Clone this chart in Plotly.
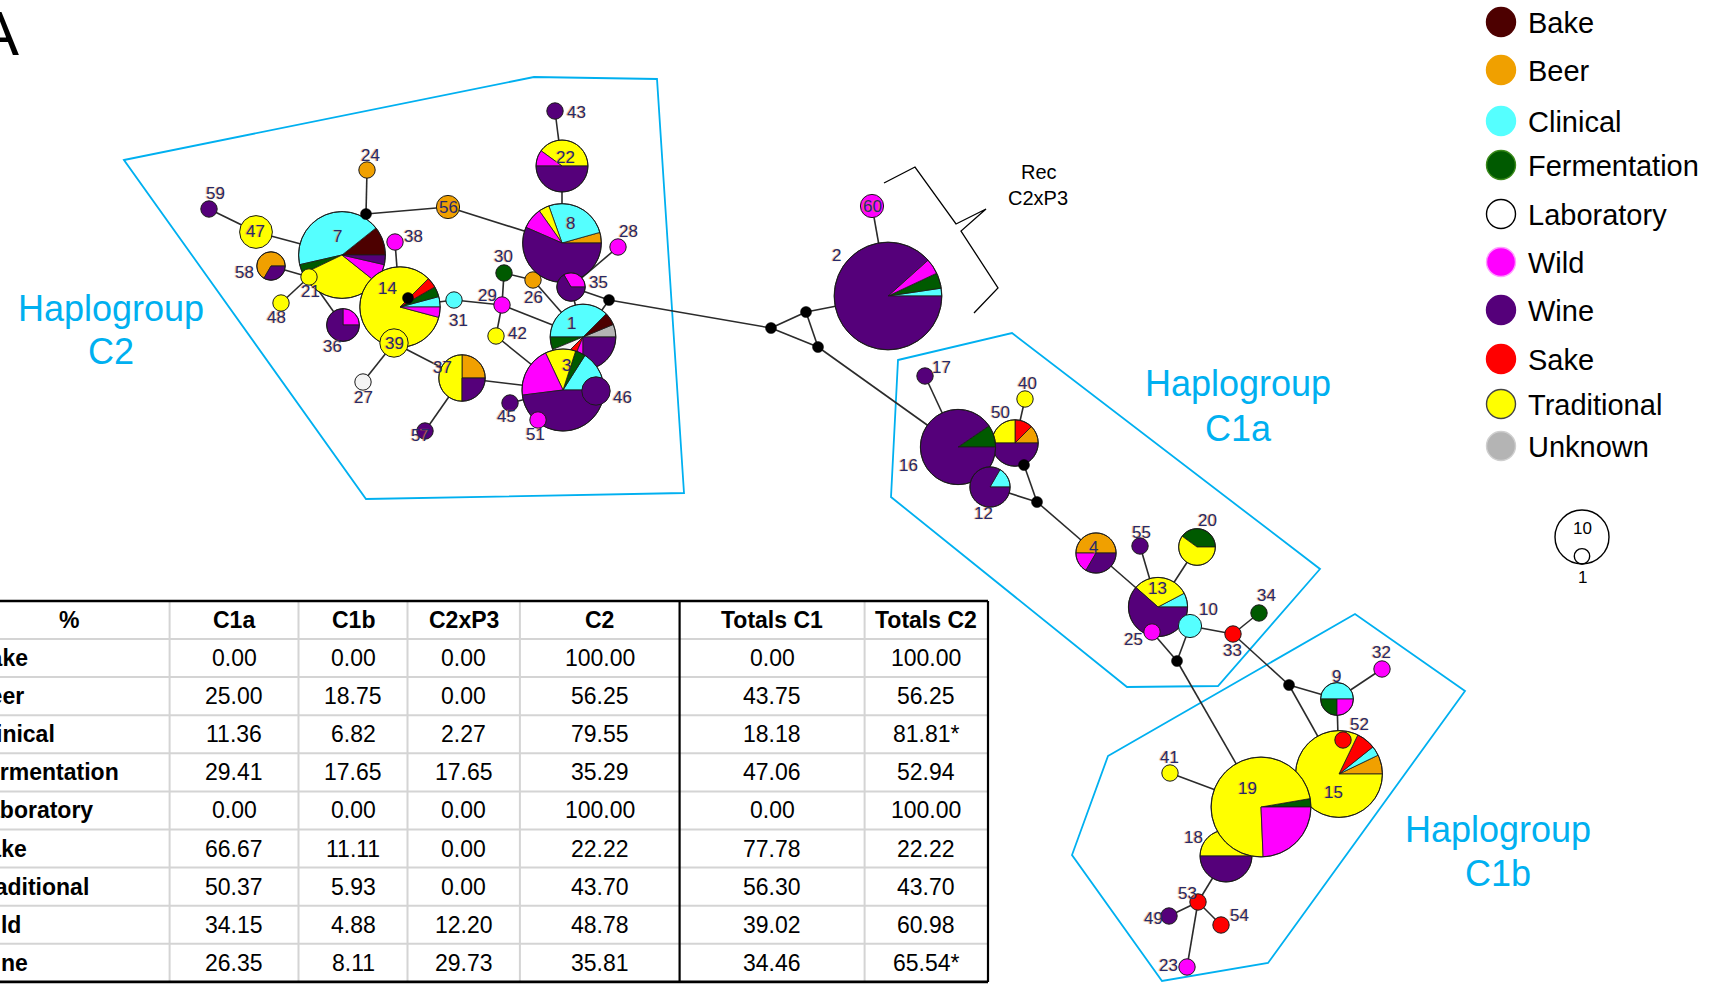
import numpy as np
import plotly.graph_objects as go

W, H = 1727, 985
FONT = "Liberation Sans, Arial, sans-serif"

# ---------------------------------------------------------------- categories
categories = ["Bake", "Beer", "Clinical", "Fermentation", "Laboratory",
              "Wild", "Wine", "Sake", "Traditional", "Unknown"]
category_color = {
    "Bake": "#4d0000", "Beer": "#f0a000", "Clinical": "#55ffff",
    "Fermentation": "#005a00", "Laboratory": "#f4f4f4", "Wild": "#ff00ff",
    "Wine": "#55007a", "Sake": "#ff0000", "Traditional": "#ffff00",
    "Unknown": "#b4b4b4",
}

# ------------------------------------------- strain counts of each haplotype
# (listed counter-clockwise starting at 3 o'clock)
haplotype_counts = {
    1: [("Unknown", 1), ("Bake", 1), ("Clinical", 6), ("Fermentation", 1),
        ("Laboratory", 1), ("Sake", 1), ("Wild", 1), ("Wine", 4)],
    2: [("Clinical", 1), ("Fermentation", 2), ("Wild", 2), ("Wine", 38)],
    3: [("Clinical", 4), ("Fermentation", 1), ("Traditional", 3), ("Wild", 5), ("Wine", 12)],
    4: [("Beer", 3), ("Wild", 1), ("Wine", 2)],
    7: [("Bake", 3), ("Clinical", 12), ("Fermentation", 1), ("Traditional", 9),
        ("Wild", 2), ("Wine", 1)],
    8: [("Beer", 1), ("Clinical", 6), ("Traditional", 1), ("Wild", 2), ("Wine", 13)],
    9: [("Clinical", 2), ("Fermentation", 1), ("Wild", 1)],
    10: [("Clinical", 2)],
    12: [("Clinical", 1), ("Wine", 5)],
    13: [("Clinical", 1), ("Traditional", 4), ("Wine", 8)],
    14: [("Clinical", 1), ("Fermentation", 1), ("Sake", 1), ("Traditional", 20), ("Wild", 1)],
    15: [("Beer", 2), ("Clinical", 1), ("Sake", 2), ("Traditional", 23)],
    16: [("Fermentation", 2), ("Wine", 19)],
    17: [("Wine", 1)],
    18: [("Traditional", 5), ("Wine", 5)],
    19: [("Fermentation", 1), ("Traditional", 27), ("Wild", 9)],
    20: [("Fermentation", 2), ("Traditional", 3)],
    21: [("Traditional", 1)],
    22: [("Traditional", 4), ("Wild", 1), ("Wine", 5)],
    23: [("Wild", 1)],
    24: [("Beer", 1)],
    25: [("Wild", 1)],
    26: [("Beer", 1)],
    27: [("Laboratory", 1)],
    28: [("Wild", 1)],
    29: [("Wild", 1)],
    30: [("Fermentation", 1)],
    31: [("Clinical", 1)],
    32: [("Wild", 1)],
    33: [("Sake", 1)],
    34: [("Fermentation", 1)],
    35: [("Wild", 1), ("Wine", 2)],
    36: [("Wild", 1), ("Wine", 3)],
    37: [("Beer", 2), ("Traditional", 4), ("Wine", 2)],
    38: [("Wild", 1)],
    39: [("Traditional", 3)],
    40: [("Traditional", 1)],
    41: [("Traditional", 1)],
    42: [("Traditional", 1)],
    43: [("Wine", 1)],
    45: [("Wine", 1)],
    46: [("Wine", 3)],
    47: [("Traditional", 4)],
    48: [("Traditional", 1)],
    49: [("Wine", 1)],
    50: [("Beer", 1), ("Sake", 1), ("Traditional", 2), ("Wine", 4)],
    51: [("Wild", 1)],
    52: [("Sake", 1)],
    53: [("Sake", 1)],
    54: [("Sake", 1)],
    55: [("Wine", 1)],
    56: [("Beer", 2)],
    57: [("Wine", 1)],
    58: [("Beer", 2), ("Wine", 1)],
    59: [("Wine", 1)],
    60: [("Wild", 2)],
}

# ------------------------------------------------- network layout (pixels)
node_xy = {
    59: (209, 209), 47: (256, 232), 7: (342, 255), 24: (367, 170), 56: (448, 207),
    38: (395, 242), 58: (271, 266), 21: (309, 277), 48: (281, 303), 36: (343, 325),
    14: (400, 307), 39: (394, 343), 31: (454, 300), 30: (504, 273), 29: (502, 305),
    26: (533, 280), 42: (496, 336), 43: (555, 111), 22: (562, 166), 8: (562, 243),
    28: (618, 247), 35: (571, 287), 1: (583, 337), 3: (563, 390), 46: (596, 391),
    45: (510, 403), 51: (538, 420), 27: (363, 382), 37: (462, 378), 57: (425, 431),
    2: (888, 296), 60: (872, 206),
    17: (925, 376), 16: (958, 447), 50: (1015, 443), 40: (1025, 399), 12: (990, 487),
    4: (1096, 553), 55: (1140, 546), 20: (1197, 547), 13: (1158, 607), 25: (1152, 632),
    10: (1190, 626), 33: (1233, 634), 34: (1259, 613),
    9: (1337, 699), 32: (1382, 669), 15: (1339, 774), 52: (1343, 740), 19: (1261, 807),
    18: (1226, 856), 41: (1170, 773), 53: (1198, 902), 49: (1169, 916), 54: (1221, 925),
    23: (1187, 967),
}
median_xy = {
    "m1": (366, 214), "m14": (408, 298), "m2": (609, 300), "m3": (771, 328),
    "m4": (806, 312), "m5": (818, 347), "m6": (1024, 465), "m7": (1037, 502),
    "m8": (1177, 661), "m9": (1289, 685),
}
label_xy = {
    59: (215, 194), 47: (256, 232), 7: (337, 237), 24: (370, 155), 56: (448, 207),
    38: (413, 237), 58: (245, 272), 21: (310, 291), 48: (276, 318), 36: (332, 347),
    14: (387, 288), 39: (394, 343), 31: (458, 320), 30: (503, 256), 29: (487, 295),
    26: (533, 297), 42: (517, 334), 43: (576, 112), 22: (565, 157), 8: (570, 223),
    28: (628, 232), 35: (598, 282), 1: (571, 323), 3: (566, 365), 46: (622, 397),
    45: (506, 417), 51: (535, 434), 27: (363, 398), 37: (442, 367), 57: (420, 435),
    2: (836, 255), 60: (872, 206), 17: (942, 367), 16: (909, 465), 50: (1000, 412),
    40: (1027, 383), 12: (983, 513), 4: (1093, 547), 55: (1141, 532), 20: (1207, 520),
    13: (1157, 588), 25: (1133, 639), 10: (1208, 609), 33: (1232, 650), 34: (1266, 595),
    9: (1336, 676), 32: (1381, 652), 15: (1333, 792), 52: (1359, 724), 19: (1247, 788),
    18: (1193, 837), 41: (1169, 757), 53: (1187, 893), 49: (1153, 918), 54: (1239, 915),
    23: (1168, 965),
}
links = [
    (59, 47), (47, 7), (7, "m1"), ("m1", 24), ("m1", 56), (56, 8), (7, 21), (21, 58),
    (21, 48), (21, 36), (7, 14), (38, 14), (14, 39), (14, 31), (31, 29), (29, 30),
    (29, 42), (29, 1), (30, 26), (26, 1), (42, 3), (39, 37), (39, 27), (37, 57),
    (37, 3), (45, 3), (43, 22), (22, 8), (28, 35), (8, 35), (35, 1), (35, "m2"),
    ("m2", 1), ("m2", "m3"), ("m3", "m4"), ("m3", "m5"), ("m4", "m5"), ("m4", 2),
    (60, 2), ("m5", 16), (17, 16), (40, 50), (50, "m6"), ("m6", "m7"), (12, "m7"),
    ("m7", 4), (4, 13), (55, 13), (20, 13), (13, 10), (10, 33), (33, 34), (25, "m8"),
    (10, "m8"), ("m8", 19), (33, "m9"), ("m9", 9), ("m9", 15), (32, 9), (9, 15),
    (41, 19), (18, 53), (53, 49), (53, 54), (53, 23),
]
draw_order = [59, 47, 24, 56, 58, 48, 36, 7, 21, 14, 39, 38, 31, 30, 29, 26, 42, 27,
              37, 57, 43, 22, 8, 28, 35, 1, 3, 46, 45, 51, 2, 60, 17, 50, 40, 16, 12,
              4, 55, 20, 13, 25, 10, 33, 34, 9, 32, 15, 52, 18, 19, 41, 53, 49, 54, 23]

# haplogroup outlines and captions
group_outline = {
    "C2": [(124, 160), (534, 77), (657, 79), (684, 493), (366, 499)],
    "C1a": [(898, 360), (1012, 333), (1320, 569), (1218, 686), (1127, 687), (891, 497)],
    "C1b": [(1108, 756), (1355, 614), (1465, 691), (1268, 963), (1162, 981), (1072, 855)],
}
group_caption_xy = {"C2": (111, 308, 351), "C1a": (1238, 383, 428), "C1b": (1498, 829, 873)}
brace_pts = [(884, 183), (915, 167), (956, 224), (986, 209), (961, 231), (998, 288), (974, 313)]

# ------------------------------------------------------------ summary table
table_cols = ["%", "C1a", "C1b", "C2xP3", "C2", "Totals C1", "Totals C2"]
table_rows = ["Bake", "Beer", "Clinical", "Fermentation", "Laboratory",
              "Sake", "Traditional", "Wild", "Wine"]
pct_C1a = [0.00, 25.00, 11.36, 29.41, 0.00, 66.67, 50.37, 34.15, 26.35]
pct_C1b = [0.00, 18.75, 6.82, 17.65, 0.00, 11.11, 5.93, 4.88, 8.11]
pct_C2xP3 = [0.00, 0.00, 2.27, 17.65, 0.00, 0.00, 0.00, 12.20, 29.73]
pct_C2 = [100.00, 56.25, 79.55, 35.29, 100.00, 22.22, 43.70, 48.78, 35.81]
total_C1 = [0.00, 43.75, 18.18, 47.06, 0.00, 77.78, 56.30, 39.02, 34.46]
total_C2 = [100.00, 56.25, 81.81, 52.94, 100.00, 22.22, 43.70, 60.98, 65.54]
significant_C2 = ["Clinical", "Wine"]

col_edges = [-31, 169.6, 298.5, 407.5, 519.9, 679.6, 864.6, 988]
table_top, header_h, row_h = 601, 38, 38.1

# ------------------------------------------------------------------ helpers
R1 = 8.2  # radius of a single-strain node


def node_radius(n):
    return R1 * np.sqrt(n)


def arc_points(cx, cy, r, a0, a1):
    k = max(2, int(np.ceil(abs(a1 - a0) / 2.0)))
    t = np.radians(np.linspace(a0, a1, k + 1))
    return cx + r * np.cos(t), cy - r * np.sin(t)


def wedge_path(cx, cy, r, a0, a1):
    xs, ys = arc_points(cx, cy, r, a0, a1)
    pts = " L".join(f"{x:.2f},{y:.2f}" for x, y in zip(xs, ys))
    return f"M{cx:.2f},{cy:.2f} L{pts} Z"


def poly_path(pts, closed=True):
    s = "M" + " L".join(f"{x},{y}" for x, y in pts)
    return s + (" Z" if closed else "")


shapes, annotations = [], []


def circle(cx, cy, r, fill, line_color="#1a1a1a", width=1.0):
    shapes.append(dict(type="circle", xref="x", yref="y", x0=cx - r, x1=cx + r,
                       y0=cy - r, y1=cy + r, fillcolor=fill,
                       line=dict(color=line_color, width=width)))


def text(x, y, s, size, color="black", xanchor="center", family=FONT, **font_extra):
    # paper coordinates so that text hanging past the page edge is still drawn
    annotations.append(dict(x=x / W, y=1 - y / H, xref="paper", yref="paper", text=s,
                            showarrow=False, xanchor=xanchor, yanchor="middle",
                            font=dict(family=family, size=size, color=color, **font_extra)))


def pos(key):
    return node_xy[key] if key in node_xy else median_xy[key]


# --------------------------------------------------------- haplogroup hulls
for g, pts in group_outline.items():
    shapes.append(dict(type="path", xref="x", yref="y", path=poly_path(pts),
                       line=dict(color="#00b0f0", width=1.8), fillcolor="rgba(0,0,0,0)"))

# ----------------------------------------------------------------- edges
for a, b in links:
    (x0, y0), (x1, y1) = pos(a), pos(b)
    shapes.append(dict(type="line", xref="x", yref="y", x0=x0, y0=y0, x1=x1, y1=y1,
                       line=dict(color="#2b2b2b", width=1.6)))

# ------------------------------------------------------------- pie nodes
for hid in draw_order:
    cx, cy = node_xy[hid]
    parts = haplotype_counts[hid]
    n = sum(c for _, c in parts)
    r = node_radius(n)
    if len(parts) == 1:
        circle(cx, cy, r, category_color[parts[0][0]])
        continue
    a = 0.0
    for cat, c in parts:
        span = 360.0 * c / n
        shapes.append(dict(type="path", xref="x", yref="y", path=wedge_path(cx, cy, r, a, a + span),
                           fillcolor=category_color[cat], line=dict(color="#1a1a1a", width=0.8)))
        a += span
    circle(cx, cy, r, "rgba(0,0,0,0)")

# median vectors
for key, (mx, my) in median_xy.items():
    circle(mx, my, 5.5, "black", "black", 0.5)

# node numbers
for hid, (lx, ly) in label_xy.items():
    text(lx, ly, str(hid), 17, color="#26296a", shadow="-1px 0px 1px rgba(230,150,40,0.85)")

# haplogroup captions
for g, (gx, gy1, gy2) in group_caption_xy.items():
    text(gx, gy1, "Haplogroup", 36, color="#00b0f0")
    text(gx, gy2, g, 36, color="#00b0f0")

# recombinant bracket
shapes.append(dict(type="path", xref="x", yref="y", path=poly_path(brace_pts, closed=False),
                   line=dict(color="black", width=1.3)))
text(1039, 172, "Rec", 20)
text(1038, 198, "C2xP3", 20)

# panel letter
text(-2, 33, "A", 63)

# ---------------------------------------------------------------- legend
legend_y = [22, 70, 121, 165, 214, 262, 310, 359, 404, 446]
for cat, ly in zip(categories, legend_y):
    outline = {"Laboratory": "black", "Traditional": "#444444",
               "Fermentation": "#3a8a1a", "Wild": "#ff9cff", "Unknown": "#cfcfcf"}.get(cat, category_color[cat])
    circle(1501, ly, 14.5, "#ffffff" if cat == "Laboratory" else category_color[cat], outline, 1.4)
    text(1526, ly + 1, cat, 29, xanchor="left")

# node size key
circle(1582, 537, 27, "rgba(0,0,0,0)", "black", 1.4)
circle(1582, 556.3, 7.7, "rgba(0,0,0,0)", "black", 1.4)
text(1582, 528, "10", 17)
text(1582, 577, "1", 17)

# ----------------------------------------------------------------- table
grid = "#d4d4d4"
row_lines = [table_top + header_h + i * row_h for i in range(len(table_rows) + 1)]
table_bottom = row_lines[-1]
for yy in row_lines[:-1]:
    shapes.append(dict(type="line", xref="x", yref="y", x0=col_edges[0], x1=col_edges[-1],
                       y0=yy, y1=yy, line=dict(color=grid, width=2)))
for j, xx in enumerate(col_edges[1:], start=1):
    dark = j in (5, 7)
    shapes.append(dict(type="line", xref="x", yref="y", x0=xx, x1=xx, y0=table_top,
                       y1=table_bottom, line=dict(color="black" if dark else grid,
                                                  width=2.2 if dark else 2)))
for yy in (table_top, table_bottom):
    shapes.append(dict(type="line", xref="x", yref="y", x0=col_edges[0], x1=col_edges[-1],
                       y0=yy, y1=yy, line=dict(color="black", width=2.6)))

col_center = [(col_edges[j] + col_edges[j + 1]) / 2 for j in range(len(table_cols))]
for c, xc in zip(table_cols, col_center):
    text(xc, table_top + header_h / 2, f"<b>{c}</b>", 23)

columns = [pct_C1a, pct_C1b, pct_C2xP3, pct_C2, total_C1, total_C2]
for i, rname in enumerate(table_rows):
    yc = table_top + header_h + (i + 0.5) * row_h
    text(-29.5, yc, f"<b>{rname}</b>", 23, xanchor="left")
    for j, col in enumerate(columns):
        s = f"{col[i]:.2f}"
        if j == 5 and rname in significant_C2:
            s += "*"
        text(col_center[j + 1], yc, s, 23)

# ---------------------------------------------------------- hover anchors
hx = [node_xy[h][0] for h in draw_order]
hy = [node_xy[h][1] for h in draw_order]
htxt = [f"H{h}: " + ", ".join(f"{c} {k}" for c, k in haplotype_counts[h]) for h in draw_order]

fig = go.Figure(go.Scatter(x=hx, y=hy, mode="markers", text=htxt, hoverinfo="text",
                           marker=dict(size=10, opacity=0)))
fig.update_layout(
    width=W, height=H, margin=dict(l=0, r=0, t=0, b=0),
    paper_bgcolor="white", plot_bgcolor="white", showlegend=False,
    xaxis=dict(range=[0, W], visible=False, fixedrange=True),
    yaxis=dict(range=[H, 0], visible=False, fixedrange=True),
    shapes=shapes, annotations=annotations,
)
fig.write_html("out.html", config={"displayModeBar": False},
               post_script="document.body.style.margin='0';")
